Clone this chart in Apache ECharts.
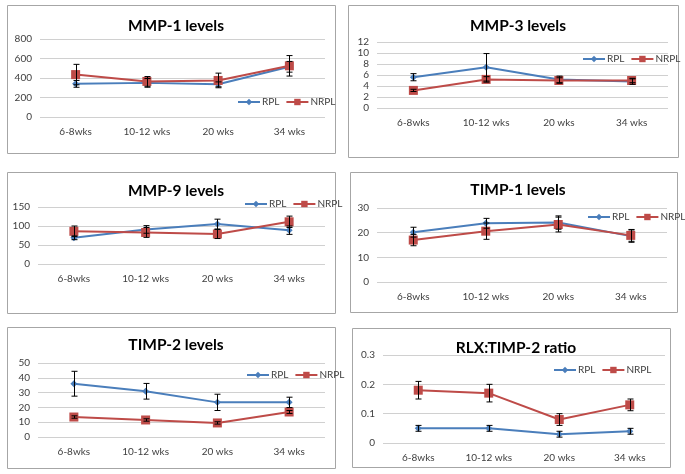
<!DOCTYPE html>
<html>
<head>
<meta charset="utf-8">
<script src="https://cdn.jsdelivr.net/npm/echarts@6/dist/echarts.min.js"></script>
<style>
html,body{margin:0;padding:0;background:#fff;}
#chart{width:685px;height:474px;}
</style>
</head>
<body>
<div id="chart"></div>
<script>
// ---- Data ----
const categories = ['6-8wks', '10-12 wks', '20 wks', '34 wks'];
const seriesNames = ['RPL', 'NRPL'];
const panelTitles = ['MMP-1 levels', 'MMP-3 levels', 'MMP-9 levels', 'TIMP-1 levels', 'TIMP-2 levels', 'RLX:TIMP-2 ratio'];

const mmp1RPL = [340, 350, 335, 515];
const mmp1RPLErr = [35, 45, 25, 55];
const mmp1NRPL = [435, 365, 375, 525];
const mmp1NRPLErr = [105, 50, 75, 105];

const mmp3RPL = [5.6, 7.4, 5.2, 4.8];
const mmp3RPLErr = [0.65, 2.5, 0.6, 0.5];
const mmp3NRPL = [3.2, 5.2, 5.0, 5.0];
const mmp3NRPLErr = [0.2, 0.5, 0.5, 0.4];

const mmp9RPL = [69, 91, 105, 89];
const mmp9RPLErr = [5, 10, 13, 11];
const mmp9NRPL = [86, 83, 79, 111];
const mmp9NRPLErr = [14, 13, 12, 15];

const timp1RPL = [20.2, 23.8, 24.1, 18.6];
const timp1RPLErr = [2, 2, 2.7, 2.5];
const timp1NRPL = [17.0, 20.6, 23.3, 18.9];
const timp1NRPLErr = [2.3, 3.3, 3.0, 2.4];

const timp2RPL = [36, 30.9, 23.4, 23.4];
const timp2RPLErr = [8.4, 5.3, 5.5, 3.5];
const timp2NRPL = [13.5, 11.5, 9.5, 16.9];
const timp2NRPLErr = [0.8, 0.8, 0.8, 1.0];

const rlxRPL = [0.05, 0.05, 0.03, 0.04];
const rlxRPLErr = [0.01, 0.01, 0.01, 0.01];
const rlxNRPL = [0.18, 0.17, 0.08, 0.13];
const rlxNRPLErr = [0.03, 0.03, 0.02, 0.02];

const yMax = [800, 12, 150, 30, 50, 0.3];
const yInterval = [200, 2, 50, 10, 10, 0.1];

const panelValues = [
  [mmp1RPL, mmp1RPLErr, mmp1NRPL, mmp1NRPLErr],
  [mmp3RPL, mmp3RPLErr, mmp3NRPL, mmp3NRPLErr],
  [mmp9RPL, mmp9RPLErr, mmp9NRPL, mmp9NRPLErr],
  [timp1RPL, timp1RPLErr, timp1NRPL, timp1NRPLErr],
  [timp2RPL, timp2RPLErr, timp2NRPL, timp2NRPLErr],
  [rlxRPL, rlxRPLErr, rlxNRPL, rlxNRPLErr]
];

// ---- Layout (positions / styles) ----
const frames = [
  [7, 5, 328, 148], [348, 5, 330, 152],
  [7, 172, 328, 141], [350, 172, 327, 140],
  [7, 327, 328, 141], [352, 328, 318, 139]
];
const grids = [
  {left: 40, top: 39, width: 285, height: 78},
  {left: 377, top: 42, width: 291, height: 66},
  {left: 38, top: 207, width: 287, height: 57},
  {left: 377, top: 208, width: 290, height: 74},
  {left: 38, top: 363, width: 287, height: 74},
  {left: 383, top: 355, width: 282, height: 88}
];
const titlePos = [[171, 13], [513, 13], [171, 178], [513, 177], [171, 332], [511, 335]];
const legendPos = [[232, 92], [577, 49], [239, 194], [582, 207], [241, 365], [548, 360]];

const BLUE = '#4A7EBB';
const RED = '#BE4B48';
const FONT = 'Lato, "Open Sans", sans-serif';

const option = {
  backgroundColor: '#fff',
  animation: false,
  graphic: frames.map(f => ({
    type: 'rect', shape: {x: f[0] + 0.5, y: f[1] + 0.5, width: f[2], height: f[3]},
    style: {fill: 'none', stroke: '#A6A6A6', lineWidth: 1}, z: -10
  })),
  title: panelTitles.map((t, i) => ({
    text: t, left: titlePos[i][0], top: titlePos[i][1], textAlign: 'center',
    textStyle: {fontFamily: FONT, fontSize: 15.5, fontWeight: 'bold', color: '#000'}
  })),
  legend: panelTitles.map((t, i) => ({
    left: legendPos[i][0], top: legendPos[i][1], width: 200, orient: 'horizontal',
    data: seriesNames.map(n => n + '#' + i),
    formatter: name => name.split('#')[0],
    itemWidth: 22, itemHeight: 8, itemGap: 6,
    textStyle: {fontFamily: FONT, fontSize: 10, color: '#404040', padding: [0, 0, 0, -3]},
    selectedMode: false
  })),
  grid: grids.map(g => Object.assign({containLabel: false}, g)),
  xAxis: grids.map((g, i) => ({
    type: 'category', gridIndex: i, data: categories, boundaryGap: true,
    axisLine: {show: false}, axisTick: {show: false},
    axisLabel: {fontFamily: FONT, fontSize: 10, color: '#404040', margin: 10}
  })),
  yAxis: grids.map((g, i) => ({
    type: 'value', gridIndex: i, min: 0, max: yMax[i], interval: yInterval[i],
    axisLine: {show: false}, axisTick: {show: false},
    splitLine: {lineStyle: {color: '#D0D0D0', width: 1}},
    axisLabel: {fontFamily: FONT, fontSize: 10, color: '#404040', margin: 8}
  })),
  series: []
};

function errorSeries(i, vals, errs) {
  return {
    type: 'custom', xAxisIndex: i, yAxisIndex: i, z: 5,
    data: vals.map((v, k) => [k, v - errs[k], v + errs[k]]),
    renderItem: function (params, api) {
      const lo = api.coord([api.value(0), api.value(1)]);
      const hi = api.coord([api.value(0), api.value(2)]);
      const x = Math.round(lo[0]) + 0.5;
      const cap = 3;
      const st = {stroke: '#000', lineWidth: 1};
      return {
        type: 'group', children: [
          {type: 'line', shape: {x1: x, y1: lo[1], x2: x, y2: hi[1]}, style: st},
          {type: 'line', shape: {x1: x - cap, y1: lo[1], x2: x + cap, y2: lo[1]}, style: st},
          {type: 'line', shape: {x1: x - cap, y1: hi[1], x2: x + cap, y2: hi[1]}, style: st}
        ]
      };
    },
    silent: true
  };
}

panelValues.forEach((pv, i) => {
  option.series.push({
    name: 'RPL#' + i, type: 'line', xAxisIndex: i, yAxisIndex: i, data: pv[0],
    symbol: 'diamond', symbolSize: 7, z: 3,
    lineStyle: {color: BLUE, width: 2}, itemStyle: {color: BLUE}
  });
  option.series.push({
    name: 'NRPL#' + i, type: 'line', xAxisIndex: i, yAxisIndex: i, data: pv[2],
    symbol: 'rect', symbolSize: 9, z: 4,
    lineStyle: {color: RED, width: 2}, itemStyle: {color: RED}
  });
  option.series.push(errorSeries(i, pv[0], pv[1]));
  option.series.push(errorSeries(i, pv[2], pv[3]));
});

const chart = echarts.init(document.getElementById('chart'), null, {renderer: 'canvas'});
chart.setOption(option);
</script>
</body>
</html>
